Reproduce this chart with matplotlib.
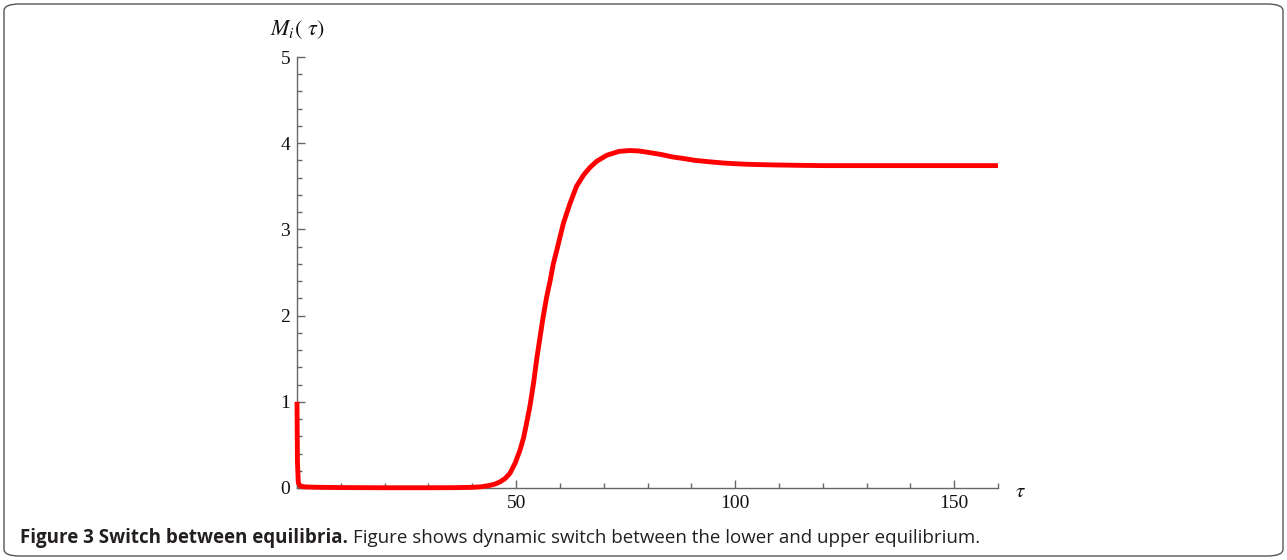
import matplotlib
matplotlib.use("Agg")
import matplotlib.pyplot as plt
from matplotlib.patches import FancyBboxPatch
from matplotlib.ticker import MultipleLocator, FixedLocator

# Data
tau = [0.0, 0.1, 0.3, 0.8, 2, 5, 10, 20, 30, 36, 40, 42, 44, 45.2, 46.3, 47.5, 48.6, 49.8,
       50.9, 51.7, 52.4, 53.2, 54.0, 54.7, 55.5, 56.2, 57.0, 57.8, 58.5, 59.3, 60.8, 62.3,
       63.8, 65.4, 66.9, 68.4, 70.7, 73.5, 76.0, 78.0, 80.0, 83.0, 85.8, 88.5, 91.0, 94.0,
       97.3, 100.0, 103.0, 108.7, 115.0, 120.0, 140.0, 160.0]
M = [1.0, 0.3, 0.06, 0.02, 0.012, 0.008, 0.005, 0.003, 0.003, 0.004, 0.008, 0.014, 0.03,
     0.046, 0.07, 0.11, 0.17, 0.29, 0.44, 0.58, 0.75, 0.96, 1.22, 1.49, 1.76, 1.99, 2.22,
     2.41, 2.6, 2.76, 3.07, 3.30, 3.50, 3.63, 3.72, 3.79, 3.86, 3.905, 3.915, 3.91, 3.895,
     3.87, 3.84, 3.82, 3.80, 3.785, 3.77, 3.762, 3.755, 3.748, 3.743, 3.74, 3.74, 3.74]

x_major = [50, 100, 150]
y_major = [0, 1, 2, 3, 4, 5]

plt.rcParams['mathtext.fontset'] = 'stix'

fig = plt.figure(figsize=(12.87, 5.6), dpi=100)
ax = fig.add_axes([297/1287, 1-488/560, 701/1287, 431/560])

ax.plot(tau, M, color='#ff0000', lw=3.5, solid_joinstyle='round', solid_capstyle='butt',
        clip_on=False, zorder=3)

ax.set_xlim(0, 160)
ax.set_ylim(0, 5)
for s in ['top', 'right']:
    ax.spines[s].set_visible(False)
for s in ['left', 'bottom']:
    ax.spines[s].set_color('#666666')
    ax.spines[s].set_linewidth(1.0)

ax.xaxis.set_major_locator(FixedLocator(x_major))
ax.xaxis.set_minor_locator(MultipleLocator(10))
ax.yaxis.set_major_locator(FixedLocator(y_major))
ax.yaxis.set_minor_locator(MultipleLocator(0.2))
ax.tick_params(which='both', direction='in', color='#666666', width=1.0)
ax.tick_params(which='major', length=6)
ax.tick_params(which='minor', length=3.5)
ax.tick_params(axis='x', which='major', pad=5)
ax.tick_params(axis='y', which='major', pad=5)
for lab in ax.get_xticklabels() + ax.get_yticklabels():
    lab.set_fontfamily('Liberation Serif')
    lab.set_fontsize(14)
    lab.set_color('#111111')

fig.text(297/1287, 1-30/560, r"$M_i(\ \tau)$", fontsize=16, ha='center', va='center', color='#111111')
fig.text(1020/1287, 1-491/560, r"$\tau$", fontsize=15, ha='center', va='center', color='#111111')

# caption
cap_y = 1-538/560
t1 = fig.text(20/1287, cap_y, "Figure 3 Switch between equilibria.", fontfamily='Open Sans',
              fontweight='bold', fontsize=13.5, ha='left', va='center', color='#231f20')
fig.canvas.draw()
bb = t1.get_window_extent()
fig.text((bb.x1 + 5)/1287, cap_y,
         "Figure shows dynamic switch between the lower and upper equilibrium.",
         fontfamily='Open Sans', fontsize=13.5, ha='left', va='center', color='#231f20')

box = FancyBboxPatch((4/1287, 4/560), 1279/1287, 552/560,
                     boxstyle="round,pad=0,rounding_size=0.012", transform=fig.transFigure,
                     fill=False, edgecolor='#555555', lw=1.0)
fig.patches.append(box)

fig.savefig('out.png', dpi=100)
